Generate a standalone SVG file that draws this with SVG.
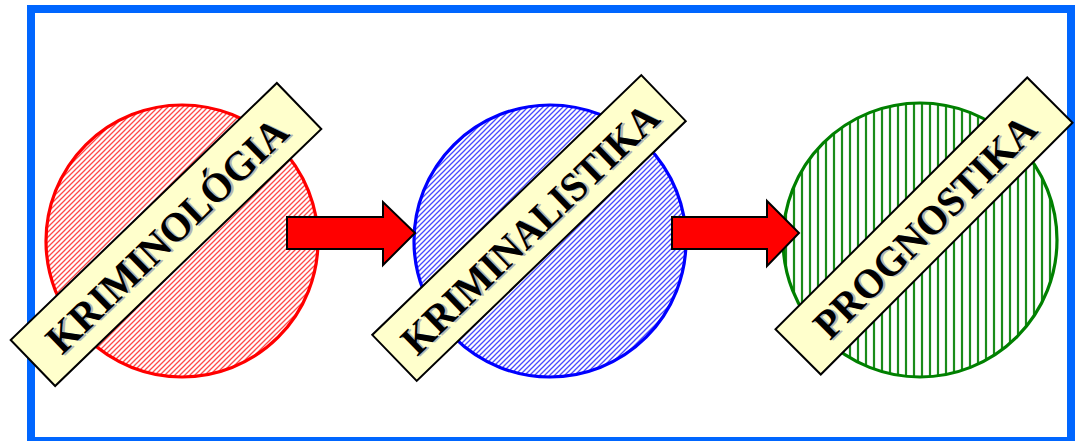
<svg xmlns="http://www.w3.org/2000/svg" width="1077" height="441" viewBox="0 0 1077 441">
  <defs>
    <!-- hatch fills for the three discs -->
    <pattern id="hatchRed" patternUnits="userSpaceOnUse" width="5" height="5">
      <rect width="5" height="5" fill="#ffffff"/>
      <path d="M-1,6 L6,-1 M-1,1 L1,-1 M4,6 L6,4" stroke="#ff4a4a" stroke-width="1.3"/>
    </pattern>
    <pattern id="hatchBlue" patternUnits="userSpaceOnUse" width="5" height="5">
      <rect width="5" height="5" fill="#ffffff"/>
      <path d="M-1,6 L6,-1 M-1,1 L1,-1 M4,6 L6,4" stroke="#4a4aff" stroke-width="1.3"/>
    </pattern>
    <pattern id="hatchGreen" patternUnits="userSpaceOnUse" width="8" height="10">
      <rect width="8" height="10" fill="#ffffff"/>
      <line x1="2" y1="0" x2="2" y2="10" stroke="#1a8c1a" stroke-width="2.2"/>
    </pattern>
  </defs>
  <style>
    .frame { fill: none; stroke: #0066ff; stroke-width: 8; }
    .disc { stroke-width: 3.2; }
    .label rect { fill: #ffffcc; stroke: #000000; stroke-width: 2; }
    .label text { font-family: "Liberation Serif", "Times New Roman", serif; font-weight: bold; font-size: 41px; text-anchor: middle; }
    .label .shadow { fill: #b4b4b4; }
    .label .ink { fill: #000000; }
    .arrow { fill: #ff0000; stroke: #000000; stroke-width: 2; stroke-linejoin: miter; }
  </style>

  <rect class="frame" x="31" y="9" width="1040" height="432"/>

  <!-- discs -->
  <g id="disc-kriminologia">
    <circle class="disc" cx="182" cy="241" r="136" fill="url(#hatchRed)" stroke="#ff0000"/>
  </g>
  <g id="disc-kriminalistika">
    <circle class="disc" cx="550" cy="241" r="136" fill="url(#hatchBlue)" stroke="#0000ff"/>
  </g>
  <g id="disc-prognostika">
    <circle class="disc" cx="920" cy="240" r="137" fill="url(#hatchGreen)" stroke="#008000"/>
  </g>

  <!-- connectors -->
  <g id="connectors">
    <path class="arrow" d="M287,217 H383 V202 L415,233 L383,265 V249 H287 Z"/>
    <path class="arrow" d="M672,217 H767 V201 L799,233 L767,266 V249 H672 Z"/>
  </g>

  <!-- labels -->
  <g id="kriminologia" class="label" transform="translate(166,234.5) rotate(-44)">
    <rect x="-185" y="-32" width="370" height="64"/>
    <text class="shadow" x="1.5" y="17" textLength="318" lengthAdjust="spacingAndGlyphs">KRIMINOLÓGIA</text>
    <text class="ink" x="0" y="15" textLength="318" lengthAdjust="spacingAndGlyphs">KRIMINOLÓGIA</text>
  </g>
  <g id="kriminalistika" class="label" transform="translate(529,228) rotate(-44)">
    <rect x="-187" y="-32" width="374" height="64"/>
    <text class="shadow" x="1.5" y="17" textLength="340" lengthAdjust="spacingAndGlyphs">KRIMINALISTIKA</text>
    <text class="ink" x="0" y="15" textLength="340" lengthAdjust="spacingAndGlyphs">KRIMINALISTIKA</text>
  </g>
  <g id="prognostika" class="label" transform="translate(924,226) rotate(-45)">
    <rect x="-178" y="-32" width="356" height="64"/>
    <text class="shadow" x="1.5" y="17" textLength="296" lengthAdjust="spacingAndGlyphs">PROGNOSTIKA</text>
    <text class="ink" x="0" y="15" textLength="296" lengthAdjust="spacingAndGlyphs">PROGNOSTIKA</text>
  </g>
</svg>
